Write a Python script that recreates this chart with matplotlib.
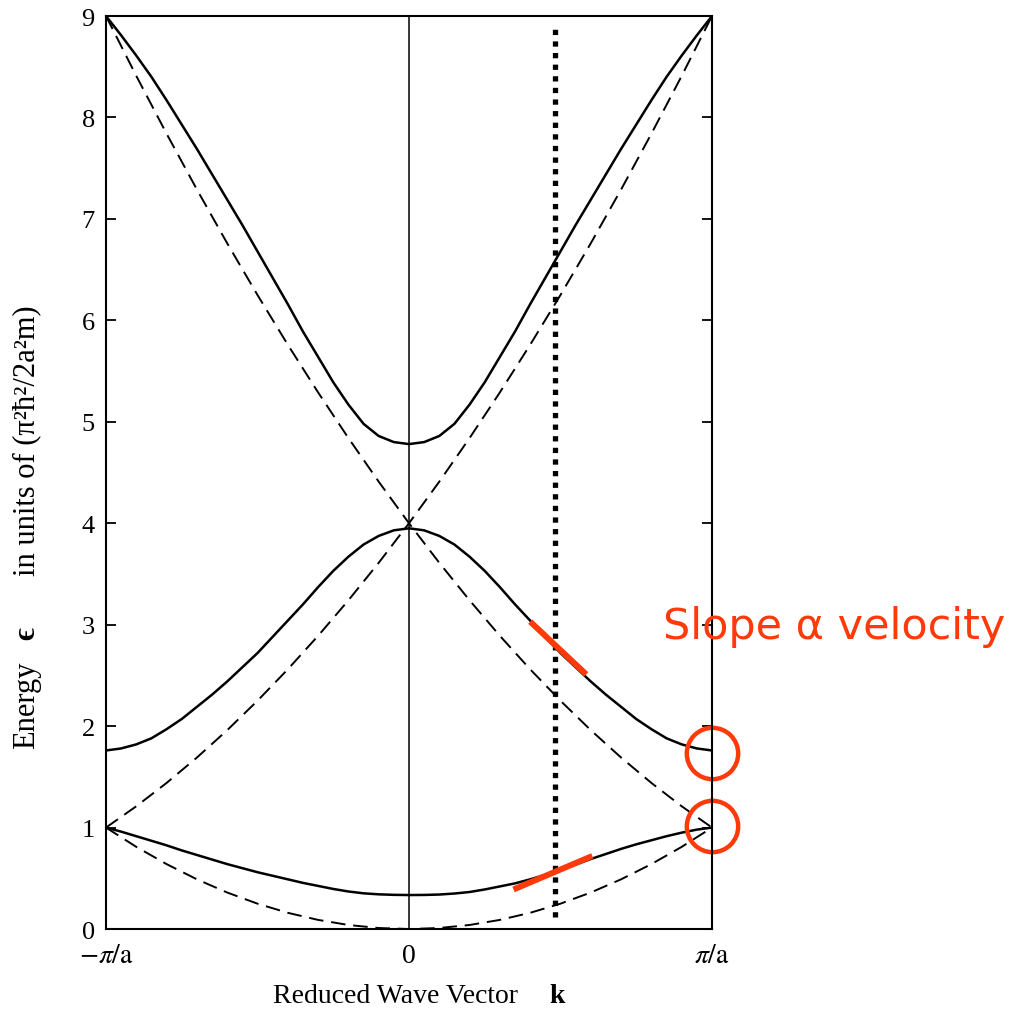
import matplotlib
matplotlib.use("Agg")
import matplotlib.pyplot as plt

plt.rcParams["mathtext.fontset"] = "stix"

# Reduced-zone band picture, k in units of pi/a, energy in units of pi^2 hbar^2 / 2 a^2 m
k_free = [-1.0, -0.9, -0.8, -0.7, -0.6, -0.5, -0.4, -0.3, -0.2, -0.1, 0.0,
          0.1, 0.2, 0.3, 0.4, 0.5, 0.6, 0.7, 0.8, 0.9, 1.0]
free_low = [1.0, 0.81, 0.64, 0.49, 0.36, 0.25, 0.16, 0.09, 0.04, 0.01, 0.0,
            0.01, 0.04, 0.09, 0.16, 0.25, 0.36, 0.49, 0.64, 0.81, 1.0]
free_up = [1.0, 1.21, 1.44, 1.69, 1.96, 2.25, 2.56, 2.89, 3.24, 3.61, 4.0,
           4.41, 4.84, 5.29, 5.76, 6.25, 6.76, 7.29, 7.84, 8.41, 9.0]
free_down = [9.0, 8.41, 7.84, 7.29, 6.76, 6.25, 5.76, 5.29, 4.84, 4.41, 4.0,
             3.61, 3.24, 2.89, 2.56, 2.25, 1.96, 1.69, 1.44, 1.21, 1.0]

k_band = [-1.0, -0.95, -0.9, -0.85, -0.8, -0.75, -0.7, -0.65, -0.6, -0.55, -0.5,
          -0.45, -0.4, -0.35, -0.3, -0.25, -0.2, -0.15, -0.1, -0.05, 0.0,
          0.05, 0.1, 0.15, 0.2, 0.25, 0.3, 0.35, 0.4, 0.45, 0.5,
          0.55, 0.6, 0.65, 0.7, 0.75, 0.8, 0.85, 0.9, 0.95, 1.0]
band1 = [1.0, 0.96, 0.915, 0.87, 0.825, 0.775, 0.73, 0.685, 0.64, 0.60, 0.56,
         0.525, 0.49, 0.455, 0.425, 0.395, 0.37, 0.352, 0.342, 0.337, 0.335,
         0.336, 0.34, 0.35, 0.365, 0.39, 0.42, 0.45, 0.49, 0.535, 0.585,
         0.635, 0.69, 0.74, 0.79, 0.835, 0.875, 0.915, 0.95, 0.98, 1.0]
band2 = [1.76, 1.78, 1.82, 1.88, 1.97, 2.07, 2.19, 2.31, 2.44, 2.58, 2.72,
         2.88, 3.04, 3.20, 3.37, 3.53, 3.67, 3.79, 3.875, 3.93, 3.95,
         3.93, 3.875, 3.79, 3.67, 3.53, 3.37, 3.20, 3.04, 2.88, 2.72,
         2.58, 2.44, 2.31, 2.19, 2.07, 1.97, 1.88, 1.82, 1.78, 1.76]
band3 = [9.0, 8.81, 8.61, 8.40, 8.17, 7.93, 7.69, 7.44, 7.19, 6.94, 6.68,
         6.42, 6.16, 5.89, 5.64, 5.39, 5.17, 4.98, 4.86, 4.80, 4.78,
         4.80, 4.86, 4.98, 5.17, 5.39, 5.64, 5.89, 6.16, 6.42, 6.68,
         6.94, 7.19, 7.44, 7.69, 7.93, 8.17, 8.40, 8.61, 8.81, 9.0]

k_marker = 0.483
marker_span = [0.12, 8.91]

slope_upper_k = [0.40, 0.585]
slope_upper_e = [3.03, 2.51]
slope_lower_k = [0.345, 0.605]
slope_lower_e = [0.39, 0.72]

circle_k = [1.0, 1.0]
circle_e = [1.74, 1.02]

y_ticks = [0, 1, 2, 3, 4, 5, 6, 7, 8, 9]
x_ticks = [-1, 0, 1]
x_tick_labels = [r"$-\pi/\mathrm{a}$", "0", r"$\pi/\mathrm{a}$"]

serif = ["Liberation Serif", "DejaVu Serif"]
red = "#FF3A0A"

fig = plt.figure(figsize=(10.16, 10.12), dpi=100)
ax = fig.add_axes([0.1043, 0.081, 0.5965, 0.9022])

dash = (0, (7.5, 4.0))
ax.plot(k_free, free_low, color="black", lw=1.4, linestyle=dash)
ax.plot(k_free, free_up, color="black", lw=1.4, linestyle=dash)
ax.plot(k_free, free_down, color="black", lw=1.4, linestyle=dash)

ax.plot(k_band, band1, color="black", lw=1.8)
ax.plot(k_band, band2, color="black", lw=1.8)
ax.plot(k_band, band3, color="black", lw=1.8)

# zone centre line
ax.axvline(0, color="black", lw=1.1)

# dotted marker line
ax.plot([k_marker, k_marker], marker_span, color="black", lw=3.8,
        linestyle=(0, (1, 1.2)), dash_capstyle="butt")

# slope annotations
ax.plot(slope_upper_k, slope_upper_e, color=red, lw=4.3, solid_capstyle="butt")
ax.plot(slope_lower_k, slope_lower_e, color=red, lw=4.3, solid_capstyle="butt")
ax.plot(circle_k, circle_e, linestyle="none", marker="o", markersize=37,
        markerfacecolor="none", markeredgecolor=red, markeredgewidth=3.2, clip_on=False)

ax.set_xlim(-1, 1)
ax.set_ylim(0, 9)
ax.set_yticks(y_ticks)
ax.set_yticklabels([str(v) for v in y_ticks], family=serif, fontsize=19)
ax.set_xticks(x_ticks)
ax.set_xticklabels(x_tick_labels, family=serif, fontsize=20)
ax.tick_params(axis="y", which="both", direction="in", length=7, width=1.3,
               left=True, right=True, pad=8)
ax.tick_params(axis="x", length=0, pad=10)
for s in ax.spines.values():
    s.set_linewidth(1.5)

# axis titles
fig.text(27 / 1016, 1 - 705 / 1012, "Energy", rotation=90, ha="center", va="center",
         family=serif, fontsize=22)
fig.text(27 / 1016, 1 - 634 / 1012, "\u03f5", rotation=90, ha="center", va="center",
         family=serif, fontsize=22, fontweight="bold")
fig.text(27 / 1016, 1 - 441 / 1012, "in units of (\u03c0\u00b2\u0127\u00b2/2a\u00b2m)",
         rotation=90, ha="center", va="center", family=serif, fontsize=22)
fig.text(518 / 1016, 1 - 997 / 1012, "Reduced Wave Vector", ha="right", va="center",
         family=serif, fontsize=20)
fig.text(557 / 1016, 1 - 997 / 1012, "k", ha="center", va="center",
         family=serif, fontsize=20, fontweight="bold")

fig.text(663 / 1016, 1 - 627 / 1012, "Slope \u03b1 velocity", ha="left", va="center",
         color=red, fontsize=31, family=["DejaVu Sans"])

fig.savefig("out.png", dpi=100)
